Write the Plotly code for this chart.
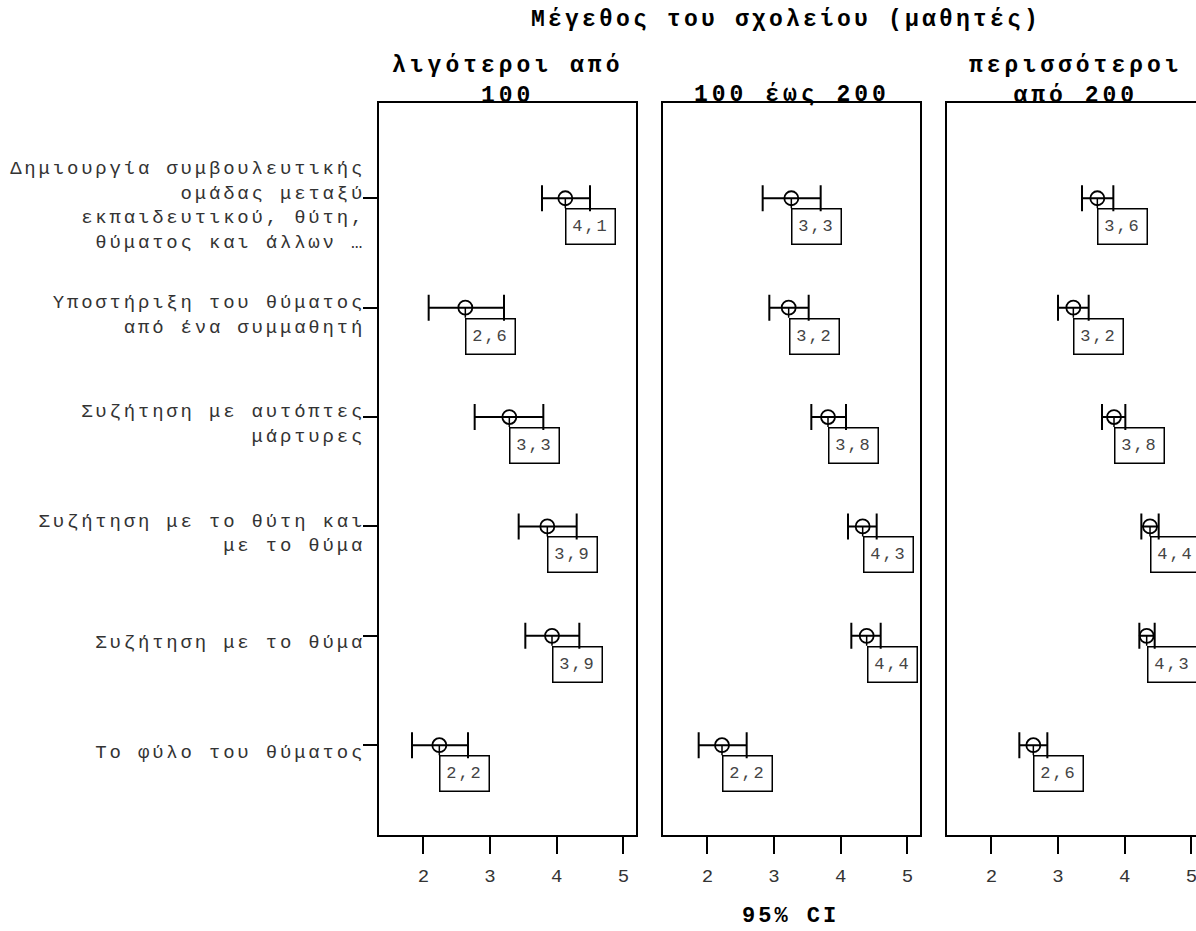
import plotly.graph_objects as go

# ---------------- data ----------------
categories = [
    "Δημιουργία συμβουλευτικής<br>ομάδας μεταξύ<br>εκπαιδευτικού, θύτη,<br>θύματος και άλλων …",
    "Υποστήριξη του θύματος<br>από ένα συμμαθητή",
    "Συζήτηση με αυτόπτες<br>μάρτυρες",
    "Συζήτηση με το θύτη και<br>με το θύμα",
    "Συζήτηση με το θύμα",
    "Το φύλο του θύματος",
]
groups = ["λιγότεροι από<br>100", "100 έως 200", "περισσότεροι<br>από 200"]

mean_small = [4.13, 2.63, 3.29, 3.86, 3.93, 2.24]
low_small = [3.78, 2.08, 2.77, 3.43, 3.53, 1.83]
high_small = [4.50, 3.21, 3.80, 4.30, 4.34, 2.67]
label_small = ["4,1", "2,6", "3,3", "3,9", "3,9", "2,2"]

mean_mid = [3.26, 3.22, 3.81, 4.33, 4.39, 2.22]
low_mid = [2.83, 2.93, 3.56, 4.11, 4.16, 1.87]
high_mid = [3.70, 3.52, 4.08, 4.54, 4.60, 2.59]
label_mid = ["3,3", "3,2", "3,8", "4,3", "4,4", "2,2"]

mean_large = [3.59, 3.23, 3.84, 4.38, 4.33, 2.63]
low_large = [3.36, 3.00, 3.66, 4.25, 4.22, 2.42]
high_large = [3.83, 3.46, 4.01, 4.51, 4.45, 2.84]
label_large = ["3,6", "3,2", "3,8", "4,4", "4,3", "2,6"]

x_ticks = [2, 3, 4, 5]
title_text = "Μέγεθος του σχολείου (μαθητές)"
x_title = "95% CI"

# ---------------- layout helpers ----------------
W, H = 1196, 931
FONT = "Liberation Mono, Courier New, monospace"


def spaced(text, ls):
    return "<br>".join(
        f'<span style="letter-spacing:{ls}px">{line}</span>' for line in text.split("<br>")
    )


def py(pix):  # pixel y -> paper y  (plot area 102..836)
    return (836 - pix) / 734


panels = [
    (mean_small, low_small, high_small, label_small, [378 / W, 637 / W], [1.32, 5.205]),
    (mean_mid, low_mid, high_mid, label_mid, [662 / W, 921 / W], [1.32, 5.205]),
    (mean_large, low_large, high_large, label_large, [946 / W, 1.0], [1.32, 1.32 + 250 / 66.67]),
]

fig = go.Figure()
rows = list(range(len(categories)))
annotations = []
shapes = []
layout = dict(
    width=W, height=H,
    margin=dict(l=0, r=0, t=102, b=95),
    paper_bgcolor="white", plot_bgcolor="white",
    showlegend=False,
    font=dict(family=FONT, color="#333333"),
)

for i, (m, lo, hi, lab, dom, rng) in enumerate(panels):
    n = "" if i == 0 else str(i + 1)
    xa, ya = "x" + n, "y" + n
    fig.add_trace(go.Scatter(
        x=m, y=rows, xaxis=xa, yaxis=ya, mode="markers",
        marker=dict(symbol="circle-open", size=14, color="black", line=dict(width=1.8, color="black")),
        error_x=dict(type="data", symmetric=False,
                     array=[h - v for h, v in zip(hi, m)],
                     arrayminus=[v - l for v, l in zip(m, lo)],
                     color="black", thickness=2, width=13),
        hoverinfo="skip",
    ))
    layout["xaxis" + n] = dict(
        domain=dom, range=rng, showgrid=False, zeroline=False, showline=False,
        tickvals=x_ticks, ticktext=[str(t) for t in x_ticks],
        ticks="outside", ticklen=17, tickwidth=2, tickcolor="black",
        ticklabelstandoff=5, ticklabeloverflow="allow",
        tickfont=dict(size=19, color="#333333", family=FONT), anchor=ya,
    )
    ydict = dict(
        domain=[0, 1], range=[5.83, -0.88], showgrid=False, zeroline=False, showline=False,
        anchor=xa, tickvals=rows,
    )
    if i == 0:
        ydict.update(
            ticktext=[spaced(c, 2.8) for c in categories],
            ticks="outside", ticklen=14, tickwidth=1.5, tickcolor="black",
            ticklabelstandoff=-6, ticklabelshift=-6,
            tickfont=dict(size=19, color="#333333", family=FONT),
        )
    else:
        ydict.update(showticklabels=False, ticks="")
    layout["yaxis" + n] = ydict

    # panel frame
    shapes.append(dict(type="rect", xref=xa + " domain", yref=ya + " domain",
                       x0=0, x1=(1205 - 946) / 250 if i == 2 else 1, y0=0, y1=1,
                       line=dict(color="black", width=2), layer="above"))
    # value callouts
    for v, r, t in zip(m, rows, lab):
        annotations.append(dict(
            x=v, y=r, xref=xa, yref=ya, text=spaced(t, 2),
            showarrow=True, arrowhead=0, arrowwidth=1.5, arrowcolor="black",
            ax=0, ay=10, standoff=0, startstandoff=0,
            xanchor="left", yanchor="top", width=48, height=34,
            bordercolor="black", borderwidth=1.5, borderpad=0,
            font=dict(size=17, color="#444444", family=FONT),
        ))
    # panel header
    if i == 2:
        cx = (946 + 1205) / 2 / W
    else:
        cx = (dom[0] + dom[1]) / 2
    two_line = "<br>" in groups[i]
    annotations.append(dict(
        x=cx, y=py(81.5 if two_line else 95), xref="paper", yref="paper",
        text="<b>" + spaced(groups[i], 4) + "</b>", showarrow=False,
        xanchor="center", yanchor="middle",
        font=dict(size=23, color="black", family=FONT),
    ))

annotations.append(dict(
    x=786 / W, y=py(20), xref="paper", yref="paper",
    text="<b>" + spaced(title_text, 3.2) + "</b>", showarrow=False,
    xanchor="center", yanchor="middle", font=dict(size=23, color="black", family=FONT),
))
annotations.append(dict(
    x=791 / W, y=py(916), xref="paper", yref="paper",
    text="<b>" + spaced(x_title, 3) + "</b>", showarrow=False,
    xanchor="center", yanchor="middle", font=dict(size=22, color="black", family=FONT),
))

layout["annotations"] = annotations
layout["shapes"] = shapes
fig.update_layout(**layout)
fig.write_html("out.html")
